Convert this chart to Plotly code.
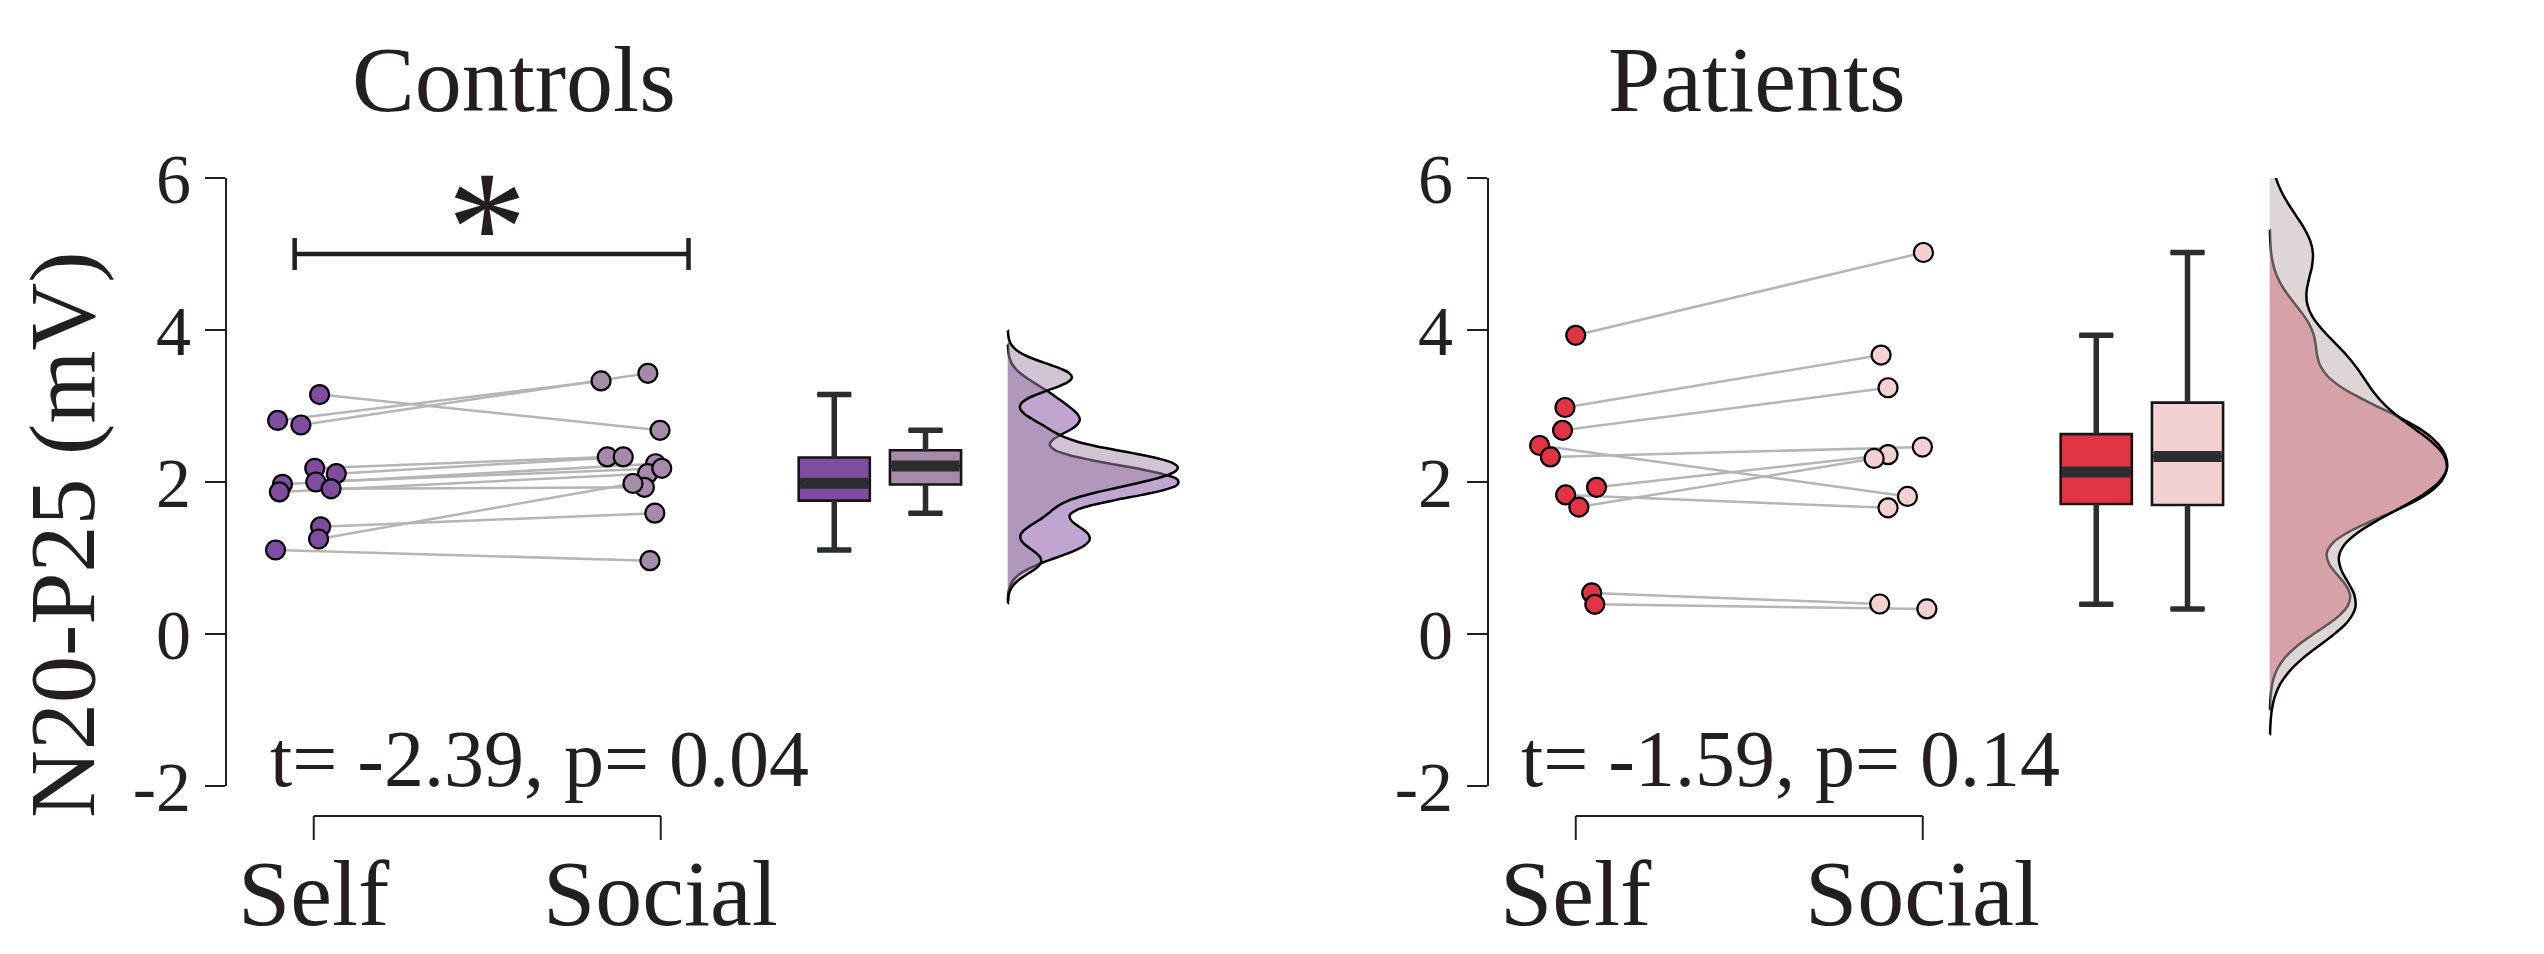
import numpy as np
import plotly.graph_objects as go

# ---------------- data ----------------
categories = ["Self", "Social"]
panels = ["Controls", "Patients"]

# paired values (same index = same participant)
ctrl_self = [3.15, 2.81, 2.75, 2.18, 2.11, 1.97, 1.87, 2.00, 1.91, 1.41, 1.25, 1.105]
ctrl_social = [2.68, 3.33, 3.43, 2.33, 2.33, 2.24, 2.11, 2.18, 1.93, 1.59, 1.98, 0.965]
ctrl_self_jitter = [0.017, -0.104, -0.037, 0.003, 0.065, -0.09, -0.099, 0.006, 0.05, 0.02, 0.014, -0.11]
ctrl_social_jitter = [-0.002, -0.172, -0.037, -0.154, -0.108, -0.015, -0.038, 0.003, -0.047, -0.017, -0.08, -0.031]

pat_self = [3.93, 2.98, 2.68, 2.48, 2.33, 1.93, 1.83, 1.67, 0.54, 0.39]
pat_social = [5.02, 3.67, 3.24, 1.81, 2.46, 2.36, 1.66, 2.31, 0.395, 0.33]
pat_self_jitter = [0.0, -0.031, -0.038, -0.104, -0.073, 0.06, -0.029, 0.009, 0.046, 0.055]
pat_social_jitter = [0.002, -0.12, -0.10, -0.044, -0.001, -0.10, -0.10, -0.14, -0.124, 0.012]

# KDE bandwidths of the half violins (self, social) and tail cut (in bandwidths)
kde_bandwidth = {"Controls": [0.20, 0.17], "Patients": [0.42, 0.50]}
kde_cut = 3.3

stats_text = ["t= -2.39, p= 0.04", "t= -1.59, p= 0.14"]
y_ticks = [-2, 0, 2, 4, 6]
y_ticktext = ["-2", "0", "2", "4", "6"]
y_title = "N20-P25 (mV)"
sig_label = "*"

# ---------------- style ----------------
FONT = "Liberation Serif"
TXT = "#231f20"
point_colors = {"Controls": ["#7f4c9f", "#a58aa9"], "Patients": ["#e03444", "#f3d1d0"]}
violin_fills = {"Controls": ["rgba(127,76,159,0.5)", "rgba(165,138,169,0.5)"],
                "Patients": ["rgba(224,52,68,0.5)", "rgba(190,172,175,0.5)"]}
violin_width = {"Controls": 0.98, "Patients": 1.02}
cat_pos = [1, 2]
box_pos = [2.5, 2.763]
violin_pos = 3.0
box_w = 0.205
cap_half = 0.049
PXU = 347.0  # px per x unit

W, H = 2544, 954
OFF = 8  # page body margin


def px(X):
    return (X - OFF) / W


def py(Y):
    return 1 - (Y - OFF) / H


fig = go.Figure()

panel_data = {
    "Controls": (ctrl_self, ctrl_social, ctrl_self_jitter, ctrl_social_jitter),
    "Patients": (pat_self, pat_social, pat_self_jitter, pat_social_jitter),
}
axes = {"Controls": ("x", "y"), "Patients": ("x2", "y2")}

for p in panels:
    s, so, sj, soj = panel_data[p]
    xa, ya = axes[p]
    series = [np.array(s), np.array(so)]
    # half violins
    for k in range(2):
        bw = kde_bandwidth[p][k]
        v = series[k]
        fig.add_trace(go.Violin(
            y=v, x0=violin_pos, side="positive", width=violin_width[p],
            bandwidth=bw, spanmode="manual",
            span=[v.min() - kde_cut * bw, v.max() + kde_cut * bw],
            scalegroup=p, scalemode="width",
            points=False, fillcolor=violin_fills[p][k],
            line=dict(color="black", width=2.5),
            box_visible=False, meanline_visible=False, hoverinfo="skip",
            showlegend=False, xaxis=xa, yaxis=ya))
    # boxes
    for k in range(2):
        v = series[k]
        q1, med, q3 = np.percentile(v, [25, 50, 75])
        iqr = q3 - q1
        lo = v[v >= q1 - 1.5 * iqr].min()
        hi = v[v <= q3 + 1.5 * iqr].max()
        bx = box_pos[k]
        fig.add_trace(go.Box(
            x=[bx], q1=[q1], median=[med], q3=[q3], lowerfence=[lo], upperfence=[hi],
            width=box_w, whiskerwidth=0.48, fillcolor=point_colors[p][k],
            line=dict(color="#151515", width=2.6), boxpoints=False,
            showlegend=False, hoverinfo="skip", xaxis=xa, yaxis=ya))
        fig.add_trace(go.Scatter(
            x=[bx, bx, None, bx, bx, None, bx - cap_half, bx + cap_half, None, bx - cap_half, bx + cap_half],
            y=[q3, hi, None, q1, lo, None, hi, hi, None, lo, lo],
            mode="lines", line=dict(color="#2a2e30", width=5.5),
            showlegend=False, hoverinfo="skip", xaxis=xa, yaxis=ya))
        fig.add_trace(go.Scatter(
            x=[bx - box_w / 2 + 1.5 / PXU, bx + box_w / 2 - 1.5 / PXU], y=[med, med],
            mode="lines", line=dict(color="#2a2e30", width=11),
            showlegend=False, hoverinfo="skip", xaxis=xa, yaxis=ya))
    # paired lines
    lx, ly = [], []
    for a, b, ja, jb in zip(s, so, sj, soj):
        lx += [cat_pos[0] + ja, cat_pos[1] + jb, None]
        ly += [a, b, None]
    fig.add_trace(go.Scatter(x=lx, y=ly, mode="lines", line=dict(color="#b4b6b6", width=2.5),
                             showlegend=False, hoverinfo="skip", xaxis=xa, yaxis=ya))
    # points
    for k, (vals, jit) in enumerate([(s, sj), (so, soj)]):
        fig.add_trace(go.Scatter(
            x=[cat_pos[k] + j for j in jit], y=vals, mode="markers",
            marker=dict(size=19, color=point_colors[p][k], line=dict(color="black", width=2.2)),
            showlegend=False, hoverinfo="skip", xaxis=xa, yaxis=ya, cliponaxis=False))

# ---------------- layout ----------------
xr = [0.75, 3.6]
ydom = [py(786), py(178)]
x1dom = [px(227), px(227 + (xr[1] - xr[0]) * PXU)]
x2dom = [px(1489), px(1489 + (xr[1] - xr[0]) * PXU)]

xcommon = dict(range=xr, showline=False, showgrid=False, zeroline=False,
               showticklabels=False, ticks="", automargin=False)
ycommon = dict(range=[-2, 6], domain=ydom, showline=True, linewidth=2, linecolor=TXT,
               ticks="outside", ticklen=20, tickwidth=2, tickcolor=TXT, automargin=False,
               tickvals=y_ticks, ticktext=y_ticktext, showgrid=False, zeroline=False,
               tickfont=dict(family=FONT, size=70, color=TXT))

fig.update_layout(
    width=W, height=H, margin=dict(l=0, r=0, t=0, b=0, autoexpand=False),
    paper_bgcolor="white", plot_bgcolor="rgba(0,0,0,0)", showlegend=False,
    xaxis=dict(domain=x1dom, anchor="y", **xcommon),
    yaxis=dict(anchor="x", **ycommon),
    xaxis2=dict(domain=x2dom, anchor="y2", **xcommon),
    yaxis2=dict(anchor="x2", **ycommon),
    violinmode="overlay", boxmode="overlay",
)

shapes = []
annotations = []
title_x = [514, 1757]
stats_x = [1.65, 1.62]
for i, p in enumerate(panels):
    xa, ya = axes[p]
    # offset x-axis bracket
    shapes.append(dict(type="line", xref=xa, yref="paper", x0=cat_pos[0], x1=cat_pos[1],
                       y0=py(816), y1=py(816), line=dict(color=TXT, width=2)))
    for c in cat_pos:
        shapes.append(dict(type="line", xref=xa, yref="paper", x0=c, x1=c,
                           y0=py(816), y1=py(840), line=dict(color=TXT, width=2)))
    for c, lab in zip(cat_pos, categories):
        annotations.append(dict(text=lab, xref=xa, yref="paper", x=c, y=py(893),
                                xanchor="center", yanchor="middle", showarrow=False,
                                font=dict(family=FONT, size=94, color=TXT)))
    annotations.append(dict(text=p, xref="paper", yref="paper", x=px(title_x[i]), y=py(79),
                            xanchor="center", yanchor="middle", showarrow=False,
                            font=dict(family=FONT, size=94, color=TXT)))
    annotations.append(dict(text=stats_text[i], xref=xa, yref=ya, x=stats_x[i], y=-1.64,
                            xanchor="center", yanchor="middle", showarrow=False,
                            font=dict(family=FONT, size=80, color=TXT)))

# significance bar (controls)
shapes.append(dict(type="line", xref="x", yref="y", x0=0.945, x1=2.08, y0=5.0, y1=5.0,
                   line=dict(color=TXT, width=4.5)))
for xe in [0.945, 2.08]:
    shapes.append(dict(type="line", xref="x", yref="y", x0=xe, x1=xe, y0=4.79, y1=5.21,
                       line=dict(color=TXT, width=4.5)))
annotations.append(dict(text=sig_label, xref="x", yref="y", x=1.5, y=5.35,
                        xanchor="center", yanchor="middle", showarrow=False,
                        font=dict(family=FONT, size=160, color=TXT)))
annotations.append(dict(text=y_title, xref="paper", yref="paper", x=px(62), y=py(535),
                        xanchor="center", yanchor="middle", textangle=-90, showarrow=False,
                        font=dict(family=FONT, size=94, color=TXT)))

fig.update_layout(shapes=shapes, annotations=annotations)
fig.write_html("out.html")
